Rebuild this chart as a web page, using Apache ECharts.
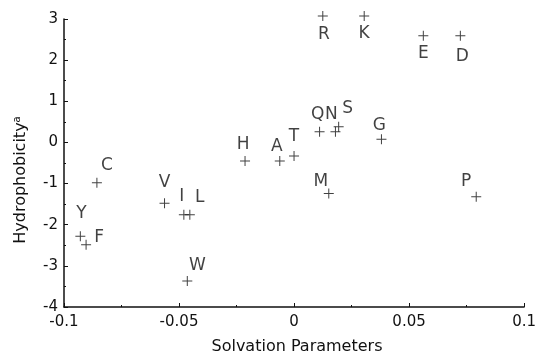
<!DOCTYPE html>
<html>
<head>
<meta charset="utf-8">
<script src="https://cdn.jsdelivr.net/npm/echarts@6/dist/echarts.min.js"></script>
<style>html,body{margin:0;padding:0;background:#fff;}#c{width:539px;height:354px;}</style>
</head>
<body>
<div id="c"></div>
<script>
const residues = ['R','K','E','D','Q','N','S','G','T','A','M','P','H','C','V','I','L','Y','F','W'];
const solvation = [0.0125,0.0305,0.0562,0.0723,0.0111,0.018,0.0194,0.038,0.0,-0.0062,0.0151,0.0792,-0.0213,-0.0857,-0.0563,-0.0479,-0.0453,-0.0929,-0.0904,-0.0464];
const hydrophobicity = [3.07,3.07,2.59,2.59,0.26,0.26,0.38,0.075,-0.33,-0.45,-1.24,-1.32,-0.45,-0.98,-1.48,-1.76,-1.76,-2.28,-2.49,-3.37];
const xTicks = [-0.1,-0.05,0,0.05,0.1];
const yTicks = [-4,-3,-2,-1,0,1,2,3];

// label placement (style only)
const labelOffsets = {
  R:[1,18],K:[0,17],E:[0,18],D:[2,21],Q:[-2,-17],N:[-4,-17],S:[9,-18],G:[-2,-14],
  T:[0,-19],A:[-3,-14],M:[-8,-12],P:[-10,-15],H:[-2,-16],C:[10,-17],V:[0,-21],
  I:[-2,-18],L:[10,-17],Y:[1,-23],F:[13,-7],W:[10,-16]
};

const font = '"DejaVu Sans", Arial, Helvetica, sans-serif';
const data = residues.map((r,i)=>({
  name:r, value:[solvation[i], hydrophobicity[i]],
  label:{offset: labelOffsets[r]}
}));

const chart = echarts.init(document.getElementById('c'));
chart.setOption({
  animation:false,
  backgroundColor:'#fff',
  grid:{left:64,right:12,top:19,bottom:47},
  xAxis:{
    type:'value', min:xTicks[0], max:xTicks[xTicks.length-1], interval:0.05,
    axisLine:{show:true,onZero:false,lineStyle:{color:'#111',width:1.5}},
    axisTick:{show:true,inside:true,length:4,lineStyle:{color:'#111'}},
    minorTick:{show:true,splitNumber:2,length:2,lineStyle:{color:'#111'}},
    splitLine:{show:false},
    axisLabel:{color:'#111',fontSize:15,fontFamily:font,margin:8,
      formatter:v=>{const t=xTicks.find(x=>Math.abs(x-v)<1e-9);return t===undefined?'':String(t);}}
  },
  yAxis:{
    type:'value', min:yTicks[0], max:yTicks[yTicks.length-1], interval:1,
    axisLine:{show:true,onZero:false,lineStyle:{color:'#111',width:1.5}},
    axisTick:{show:true,inside:true,length:4,lineStyle:{color:'#111'}},
    minorTick:{show:true,splitNumber:2,length:2,lineStyle:{color:'#111'}},
    splitLine:{show:false},
    axisLabel:{color:'#111',fontSize:15,fontFamily:font,margin:6}
  },
  graphic:[
    {type:'text',x:297,y:347,
     style:{text:'Solvation Parameters',font:'16px '+font,fill:'#111',textAlign:'center',textVerticalAlign:'middle'}},
    {type:'text',x:21,y:180,rotation:Math.PI/2,
     style:{text:'{m|Hydrophobicity}{s|a}',textAlign:'center',textVerticalAlign:'middle',
       rich:{m:{fontSize:16,fontFamily:font,fill:'#111',lineHeight:18},
             s:{fontSize:10,fontFamily:font,fill:'#111',verticalAlign:'top',lineHeight:18,padding:[0,0,6,0]}}}}
  ],
  series:[{
    type:'scatter',
    clip:false,
    symbol:'path://M0,4.5h10v1h-10zM4.5,0h1v10h-1z',
    symbolSize:10,
    itemStyle:{color:'#111'},
    label:{show:true,position:'inside',formatter:'{b}',color:'#111',fontSize:17,fontFamily:font},
    data:data
  }]
});
</script>
</body>
</html>
